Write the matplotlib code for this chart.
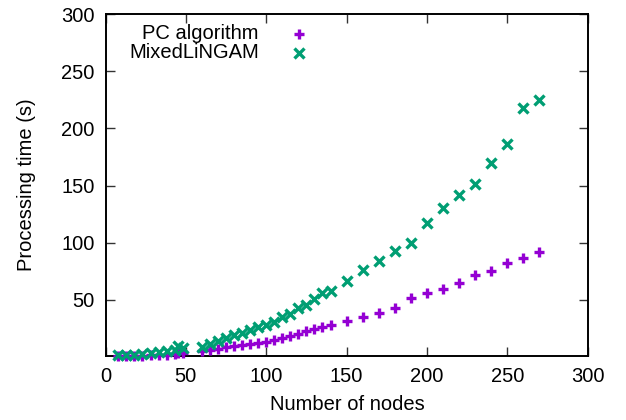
import matplotlib
matplotlib.use("Agg")
import matplotlib.pyplot as plt

plt.rcParams['font.family'] = ['Liberation Sans', 'DejaVu Sans']

# Data
nodes_low = [8, 13, 18, 23, 28, 33, 38, 43, 45, 48]
nodes_mid = [60, 65, 70, 75, 80, 85, 90, 95, 100, 105, 110, 115, 120, 125, 130, 135, 140]
nodes_high = [150, 160, 170, 180, 190, 200, 210, 220, 230, 240, 250, 260, 270]
nodes = nodes_low + nodes_mid + nodes_high

pc_time = [1.0, 1.0, 1.0, 1.2, 1.5, 1.8, 2.2, 2.7, 3.2, 3.8,
           5.5, 6.5, 7.5, 8.5, 9.5, 10.5, 11.5, 12.5, 13.5, 15.0, 17.0, 18.7, 20.5, 22.5, 24.5, 26.0, 27.7,
           31.8, 34.8, 38.8, 43.2, 52.0, 55.7, 59.2, 65.0, 71.8, 75.2, 82.2, 86.9, 92.1]
lingam_time = [1.5, 1.8, 2.2, 2.8, 3.5, 4.2, 5.0, 6.5, 10.0, 8.0,
               9.0, 11.5, 14.0, 16.5, 19.0, 21.0, 23.5, 26.0, 28.5, 31.0, 35.0, 37.5, 43.0, 45.5, 50.8, 56.0, 57.8,
               67.0, 76.0, 84.2, 93.2, 100.2, 117.3, 130.0, 141.8, 151.4, 169.4, 186.7, 217.5, 224.8]

series_names = ["PC algorithm", "MixedLiNGAM"]
xticks = [0, 50, 100, 150, 200, 250, 300]
yticks = [50, 100, 150, 200, 250, 300]

W, H = 626, 420
L, R, T, B = 105.5, 587.7, 14, 356
fig = plt.figure(figsize=(W / 100, H / 100), dpi=100)
ax = fig.add_axes([L / W, 1 - B / H, (R - L) / W, (B - T) / H])

purple = '#9400D3'
green = '#009E73'
FS = 14.5

ax.plot(nodes, pc_time, linestyle='none', marker='+', ms=7.5, mew=2.4, color=purple, clip_on=False, zorder=3)
ax.plot(nodes, lingam_time, linestyle='none', marker='x', ms=7, mew=2.4, color=green, clip_on=False, zorder=4)

ax.set_xlim(0, 300)
ax.set_ylim(1, 300)
ax.set_xticks(xticks)
ax.set_yticks(yticks)
ax.tick_params(direction='in', length=6.5, width=1.0, top=True, right=True,
               labelsize=FS, color='#333333')
ax.tick_params(axis='y', pad=8)
ax.tick_params(axis='x', pad=8)
for s in ax.spines.values():
    s.set_linewidth(1.4)


def px2ax(x, y):
    return ((x - L) / (R - L), (B - y) / (B - T))


ax.set_xlabel("Number of nodes", fontsize=FS)
ax.xaxis.label.set_va('center')
ax.xaxis.set_label_coords(*px2ax(347, 405))
ax.set_ylabel("Processing time (s)", fontsize=FS)
ax.yaxis.label.set_va('center')
ax.yaxis.set_label_coords(*px2ax(27, 185))

# key (gnuplot-style: right-justified text, sample to the right)
for name, color, mk, yp in [(series_names[0], purple, '+', 33.5), (series_names[1], green, 'x', 52.5)]:
    tx, ty = px2ax(259, yp)
    ax.text(tx, ty, name, transform=ax.transAxes, ha='right', va='center', fontsize=FS)
    mx, my = px2ax(299, yp)
    ax.plot([mx], [my], transform=ax.transAxes, linestyle='none', marker=mk,
            ms=7.5 if mk == '+' else 7, mew=2.4, color=color, clip_on=False)

fig.savefig("out.png", dpi=100)
